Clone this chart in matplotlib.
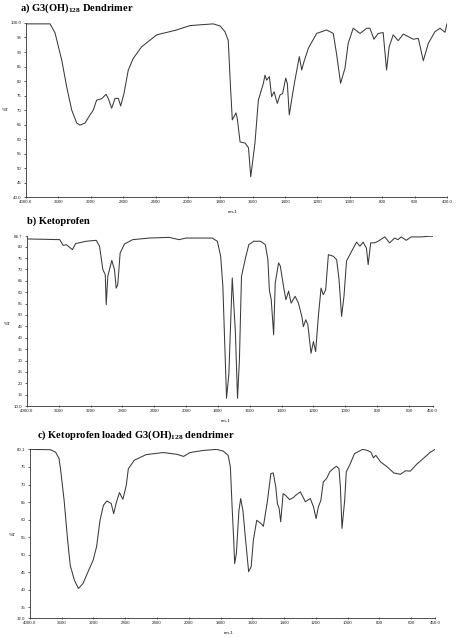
import numpy as np
import matplotlib
matplotlib.use('Agg')
import matplotlib.pyplot as plt

plt.rcParams['font.family'] = 'Liberation Sans'
plt.rcParams['mathtext.fontset'] = 'custom'
plt.rcParams['mathtext.rm'] = 'Liberation Serif:bold'
plt.rcParams['mathtext.bf'] = 'Liberation Serif:bold'

# ---- a) G3(OH)128 dendrimer : wavenumber (cm-1), %T
wn_a = [4000, 3704, 3642, 3559, 3498, 3436, 3374, 3333, 3272, 3210, 3169, 3128, 3066, 3012, 2984,
        2942, 2901, 2860, 2831, 2790, 2737, 2675, 2572, 2386, 2140, 1988, 1844, 1802, 1771, 1751,
        1738, 1726, 1703, 1694, 1678, 1647, 1626, 1612, 1586, 1565, 1534, 1524, 1514, 1497, 1483,
        1468, 1448, 1431, 1415, 1396, 1386, 1374, 1353, 1339, 1312, 1297, 1283, 1256, 1205, 1143,
        1102, 1081, 1057, 1030, 1010, 979, 937, 896, 876, 851, 825, 794, 773, 757, 732, 701, 670,
        608, 577, 546, 515, 474, 443, 412, 400]
t_a = [99.7, 99.7, 96.6, 87.2, 78.0, 70.0, 65.5, 64.8, 65.5, 68.3, 70.0, 73.4, 73.9, 75.4, 74.0,
       70.6, 74.0, 74.0, 71.4, 75.7, 83.8, 87.8, 91.8, 95.9, 97.6, 99.1, 99.7, 99.0, 97.0, 94.0,
       79.0, 66.6, 69.0, 66.6, 59.0, 58.6, 57.0, 47.0, 58.6, 73.4, 79.2, 82.0, 80.3, 81.5, 74.6,
       76.3, 72.3, 75.2, 75.7, 81.0, 79.2, 68.3, 75.7, 80.3, 88.4, 83.8, 86.7, 91.3, 96.4, 97.6,
       96.4, 89.0, 79.2, 84.4, 93.0, 98.2, 96.4, 98.2, 98.2, 94.4, 96.4, 96.7, 83.8, 91.8, 95.9,
       93.9, 96.2, 94.4, 94.7, 87.0, 93.0, 97.0, 98.2, 96.8, 99.7]

# ---- b) Ketoprofen
wn_b = [4000, 3984, 3588, 3546, 3504, 3429, 3388, 3254, 3129, 3088, 3046, 3016, 3004, 2984, 2934,
        2900, 2879, 2859, 2829, 2775, 2671, 2463, 2213, 2088, 2004, 1836, 1804, 1783, 1769, 1756,
        1746, 1731, 1721, 1710, 1690, 1677, 1665, 1652, 1627, 1606, 1575, 1533, 1502, 1486, 1477,
        1465, 1450, 1440, 1419, 1408, 1388, 1373, 1356, 1340, 1315, 1294, 1273, 1263, 1248, 1235,
        1215, 1200, 1186, 1169, 1152, 1138, 1123, 1106, 1075, 1054, 1039, 1023, 1008, 992, 960,
        929, 908, 888, 867, 856, 840, 815, 794, 752, 721, 690, 669, 648, 617, 586, 523, 471, 450]
t_b = [83.4, 83.4, 83.1, 80.6, 80.9, 78.7, 81.4, 82.4, 82.8, 80.2, 69.9, 67.7, 54.5, 67.0, 74.0,
       69.9, 61.8, 63.3, 77.2, 81.2, 83.1, 83.8, 84.1, 83.1, 83.8, 83.8, 82.4, 75.9, 62.6, 34.7,
       13.4, 24.4, 44.9, 66.3, 42.0, 13.4, 30.3, 67.0, 75.0, 80.9, 82.4, 82.4, 80.9, 74.3, 61.1,
       56.7, 41.3, 64.0, 72.9, 71.5, 62.6, 56.7, 60.5, 55.2, 58.2, 55.2, 49.4, 44.9, 47.9, 45.7,
       33.2, 38.3, 33.9, 49.4, 61.8, 58.9, 61.1, 76.5, 75.8, 74.3, 65.5, 49.4, 58.2, 73.7, 78.0,
       82.0, 80.2, 82.0, 79.4, 72.1, 81.7, 81.7, 82.4, 84.3, 81.7, 83.8, 83.1, 84.3, 82.8, 84.3,
       84.3, 84.6, 84.6]

# ---- c) Ketoprofen loaded G3(OH)128 dendrimer
wn_c = [4000, 3742, 3677, 3634, 3613, 3570, 3526, 3493, 3441, 3390, 3333, 3268, 3204, 3161, 3118,
        3075, 3032, 2977, 2946, 2916, 2873, 2830, 2787, 2761, 2687, 2537, 2323, 2151, 2065, 1992,
        1907, 1824, 1783, 1752, 1738, 1727, 1717, 1711, 1700, 1684, 1673, 1659, 1642, 1623, 1607,
        1593, 1572, 1545, 1530, 1504, 1483, 1468, 1452, 1442, 1431, 1421, 1406, 1390, 1365, 1338,
        1328, 1297, 1266, 1235, 1214, 1198, 1184, 1168, 1153, 1132, 1112, 1091, 1070, 1054, 1045,
        1035, 1018, 1008, 987, 956, 905, 874, 853, 837, 822, 791, 750, 709, 667, 636, 605, 564,
        523, 481, 450]
t_c = [80.0, 79.9, 79.2, 77.4, 74.0, 65.5, 54.2, 47.0, 42.8, 40.4, 41.8, 45.2, 48.5, 52.3, 59.8,
       64.1, 65.3, 64.6, 61.7, 64.6, 67.7, 65.8, 69.8, 74.5, 76.9, 78.5, 79.1, 78.6, 78.0, 79.1,
       79.7, 80.0, 79.5, 78.3, 75.0, 63.6, 54.2, 47.5, 50.4, 62.6, 66.0, 62.6, 54.2, 45.2, 46.6,
       54.2, 59.8, 58.9, 58.1, 65.5, 73.1, 73.3, 69.3, 64.6, 63.2, 59.4, 67.4, 66.9, 65.7, 66.4,
       66.9, 67.9, 65.1, 66.0, 63.6, 60.3, 63.6, 65.5, 70.7, 71.7, 73.6, 74.5, 75.2, 74.5, 69.3,
       57.5, 65.5, 73.6, 75.5, 78.8, 80.0, 79.7, 79.2, 77.6, 78.3, 76.4, 75.0, 73.3, 72.9, 73.9,
       73.8, 75.8, 77.4, 79.1, 80.0]

titles = ['a) G3(OH)$_{\\mathbf{128}}$ Dendrimer',
          'b) Ketoprofen',
          'c) Ketoprofen loaded G3(OH)$_{\\mathbf{128}}$ dendrimer']
xticks_a = [4000, 3600, 3200, 2800, 2400, 2000, 1800, 1600, 1400, 1200, 1000, 800, 600, 400]
xticks_bc = [4000, 3600, 3200, 2800, 2400, 2000, 1800, 1600, 1400, 1200, 1000, 800, 600, 450]
yticks_a = [100, 95, 90, 85, 80, 75, 70, 65, 60, 55, 50, 45, 40]
yticks_b = [84.7, 80, 75, 70, 65, 60, 55, 50, 45, 40, 35, 30, 25, 20, 15, 10]
yticks_c = [80.1, 75, 70, 65, 60, 55, 50, 45, 40, 35, 32]


# instrument x scale: below 2000 cm-1 the axis is expanded twice
def fwd(w):
    w = np.asarray(w, dtype=float)
    return np.where(w >= 2000, w, 2 * w - 2000)


def inv(u):
    u = np.asarray(u, dtype=float)
    return np.where(u >= 2000, u, (u + 2000) / 2)


def xlab(v, first, last):
    if v == first or v == last:
        return '%.1f' % v
    return '%d' % v


def ylab(v, first, last):
    if v == first or v == last:
        return '%.1f' % v
    return '%d' % v


fig = plt.figure(figsize=(4.57, 6.37), dpi=100)

panels = [
    # rect, x, y, xlim, ylim, xticks, yticks, ylabel pos, title pos
    ([0.057, 0.6907, 0.921, 0.2732], wn_a, t_a, (4000, 400), (40, 100), xticks_a, yticks_a,
     (-0.05, 0.49), (0.044, 0.987)),
    ([0.059, 0.3626, 0.888, 0.2669], wn_b, t_b, (4000, 450), (10, 84.7), xticks_bc, yticks_b,
     (-0.047, 0.47), (0.059, 0.653)),
    ([0.0656, 0.0298, 0.886, 0.2653], wn_c, t_c, (4000, 450), (32, 80.1), xticks_bc, yticks_c,
     (-0.044, 0.48), (0.081, 0.317)),
]

for i, (rect, wn, tt, xl, yl, xt, yt, ylpos, tpos) in enumerate(panels):
    ax = fig.add_axes(rect)
    ax.set_xscale('function', functions=(fwd, inv))
    ax.plot(wn, tt, color='#3a3a3a', lw=0.75)
    ax.set_xlim(*xl)
    ax.set_ylim(*yl)
    ax.set_xticks(xt)
    ax.set_xticklabels([xlab(v, xt[0], xt[-1]) for v in xt])
    ax.set_yticks(yt)
    ax.set_yticklabels([ylab(v, yt[0], yt[-1]) for v in yt])
    ax.xaxis.set_minor_locator(matplotlib.ticker.NullLocator())
    ax.tick_params(labelsize=3.2, length=1.8, width=0.5, pad=1.5, colors='#222222')
    ax.tick_params(axis='x', direction='inout')
    for s in ['top', 'right']:
        ax.spines[s].set_visible(False)
    for s in ['left', 'bottom']:
        ax.spines[s].set_linewidth(0.6)
        ax.spines[s].set_color('#333333')
    ax.set_ylabel('%T', rotation=0, fontsize=3.6, family='Liberation Serif')
    ax.yaxis.set_label_coords(*ylpos)
    ax.set_xlabel('cm-1', fontsize=3.2)
    ax.xaxis.set_label_coords(0.49, -0.075)
    fig.text(tpos[0], tpos[1], titles[i], fontsize=7.6, fontweight='bold',
             family='Liberation Serif', ha='left', va='center')

plt.savefig('out.png', dpi=100)
